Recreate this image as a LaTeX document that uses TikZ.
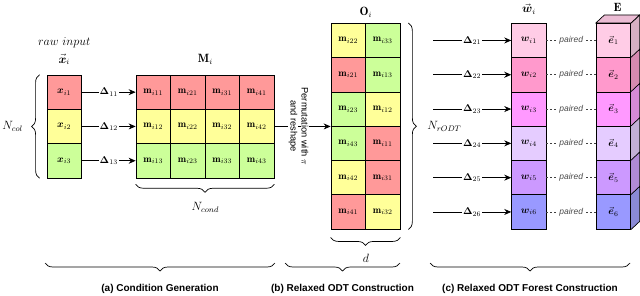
\documentclass[tikz,border=0pt]{standalone}
\usepackage{amsmath}
\usepackage{fontspec}
\setsansfont{Liberation Sans}
\usetikzlibrary{decorations.pathreplacing,arrows.meta,calc}
\definecolor{cR}{HTML}{FF9999}
\definecolor{cY}{HTML}{FFFF99}
\definecolor{cG}{HTML}{CCFF99}
\definecolor{w1}{HTML}{FFCCE6}
\definecolor{w2}{HTML}{FF99CC}
\definecolor{w3}{HTML}{FF99FF}
\definecolor{w4}{HTML}{E5CCFF}
\definecolor{w5}{HTML}{CC99FF}
\definecolor{w6}{HTML}{9999FF}
\begin{document}
\begin{tikzpicture}[x=1pt,y=-1pt,
  cell/.style={draw, line width=0.7pt, minimum width=34.5pt, minimum height=34.3pt, inner sep=0pt},
  arr/.style={-{Stealth[length=7pt,width=6pt]}, line width=0.8pt},
  lbl/.style={fill=white, inner sep=1pt},
  brc/.style={decorate, decoration={brace, amplitude=8pt}, line width=0.7pt},
  hdr/.style={inner sep=0.5pt, font=\fontsize{12}{14}\selectfont},
  sec/.style={font=\sffamily\bfseries\fontsize{10}{12}\selectfont},
  perm/.style={rotate=-90, fill=white, inner sep=0.3pt, font=\sffamily\fontsize{9.3}{10}\selectfont},
  pair/.style={fill=white, inner sep=1pt, text=black!70, font=\sffamily\itshape\fontsize{8.5}{9}\selectfont},
  pairline/.style={dashed, dash pattern=on 2pt off 2pt, line width=0.6pt, black!75}
]
\useasboundingbox (0,0) rectangle (640,295);

% (a) raw input column
\foreach \k/\col in {1/cR,2/cY,3/cG}
  \node[cell, fill=\col] (x\k) at (64.2, {75+34.3*(\k-0.5)}) {$\boldsymbol{x}_{i\k}$};
% M grid
\foreach \j in {1,2,3,4}
  \foreach \k/\col in {1/cR,2/cY,3/cG}
    \node[cell, fill=\col] (m\j\k) at ({136+34.5*(\j-0.5)}, {75+34.3*(\k-0.5)}) {$\mathbf{m}_{i\j\k}$};
\foreach \k in {1,2,3}
  \draw[arr] (x\k) -- node[lbl] {$\boldsymbol{\Delta}_{1\k}$} (m1\k);

\node[hdr] (rawlbl) at ($(x1.north)+(0,-32)$) {$raw\ input$};
\node[hdr] (xlbl) at ($(x1.north)+(0,-15)$) {$\vec{\boldsymbol{x}}_i$};
\node[hdr] (mlbl) at ($(m21.north east)+(0,-15)$) {$\mathbf{M}_i$};
\draw[brc] ($(x3.south west)+(-7,0)$) -- ($(x1.north west)+(-7,0)$);
\node[hdr] (ncol) at ($(x2.west)+(-34,0)$) {$N_{col}$};
\draw[brc] ($(m43.south east)+(0,6)$) -- ($(m13.south west)+(0,6)$);
\node[hdr] (ncond) at ($(m23.south east)+(0,29)$) {$N_{cond}$};

% (b) O grid
\foreach \r/\a/\ca/\b/\cb in {1/22/cY/33/cG, 2/21/cR/13/cG, 3/23/cG/12/cY, 4/43/cG/11/cR, 5/42/cY/31/cR, 6/41/cR/32/cY}{
  \node[cell, fill=\ca] (o\r a) at (348.25, {23.3+34.3*(\r-0.5)}) {$\mathbf{m}_{i\a}$};
  \node[cell, fill=\cb] (o\r b) at (382.75, {23.3+34.3*(\r-0.5)}) {$\mathbf{m}_{i\b}$};
}
\draw[arr] (m42.east) -- (m42.east -| o3a.south west);
\node[perm] (perm1) at (305,126.3) {Permutation with $\pi$};
\node[perm] (perm2) at (293,126.3) {and reshape};
\node[hdr] (olbl) at ($(o1a.north east)+(0,-11)$) {$\mathbf{O}_i$};
\draw[brc] ($(o1b.north east)+(8,0)$) -- ($(o6b.south east)+(8,0)$);
\node[hdr] (nrodt) at ($(o3b.south east)+(44,0)$) {$N_{rODT}$};
\draw[brc] ($(o6b.south east)+(0,8)$) -- ($(o6a.south west)+(0,8)$);
\node[hdr] (dlbl) at ($(o6a.south east)+(0,29)$) {$d$};

% (c) w column and E
\foreach \k in {1,...,6}{
  \node[cell, fill=w\k] (w\k) at (528.85, {23.3+34.3*(\k-0.5)}) {$\boldsymbol{w}_{i\k}$};
  \node[cell, fill=w\k] (e\k) at (613.5, {23.3+34.3*(\k-0.5)}) {$\vec{\boldsymbol{e}}_{\k}$};
  \fill[w\k!82!black!90] (e\k.north east) -- ++(8.5,-8) -- ($(e\k.south east)+(8.5,-8)$) -- (e\k.south east) -- cycle;
  \draw[line width=0.7pt] (e\k.north east) -- ++(8.5,-8) -- ($(e\k.south east)+(8.5,-8)$) -- (e\k.south east);
  \coordinate (s\k) at (433, {23.3+34.3*(\k-0.5)});
  \draw[arr] (s\k) -- node[lbl] {$\boldsymbol{\Delta}_{2\k}$} (w\k);
  \draw[pairline] (w\k) -- node[pair] {paired} (e\k);
}
\draw[line width=0.7pt, fill=w1!92!black] (e1.north west) -- ($(e1.north west)+(8.5,-8)$) -- ($(e1.north east)+(8.5,-8)$) -- (e1.north east) -- cycle;
\node[hdr] (wlbl) at ($(w1.north)+(0,-14)$) {$\vec{\boldsymbol{w}}_i$};
\node[hdr] (elbl) at ($(e1.north)+(4,-16)$) {$\mathbf{E}$};

% section braces
\coordinate (a1) at (45,263); \coordinate (a2) at (275,263);
\coordinate (b1) at (285,263); \coordinate (b2) at (400,263);
\coordinate (c1) at (430,263); \coordinate (c2) at (630,263);
\draw[brc] (a2) -- (a1);
\draw[brc] (b2) -- (b1);
\draw[brc] (c2) -- (c1);
\node[sec] (seca) at ($(a1)!0.5!(a2)+(0,26)$) {(a) Condition Generation};
\node[sec] (secb) at ($(b1)!0.5!(b2)+(0,26)$) {(b) Relaxed ODT Construction};
\node[sec] (secc) at ($(c1)!0.5!(c2)+(0,26)$) {(c) Relaxed ODT Forest Construction};
\end{tikzpicture}
\end{document}
